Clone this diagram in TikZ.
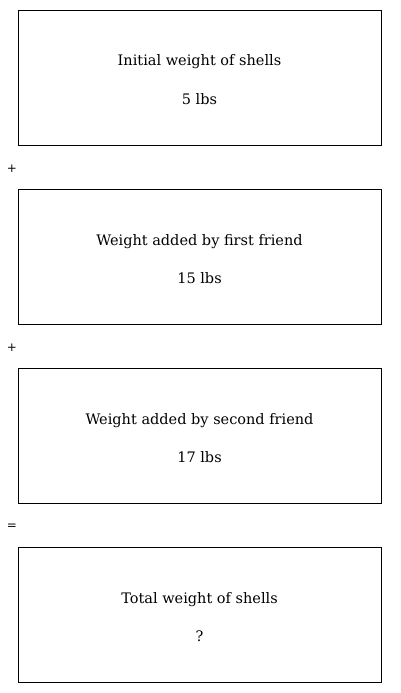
\documentclass[tikz,border=0pt]{standalone}
\usepackage{fontspec}
\setmainfont{DejaVu Serif}
\begin{document}
\begin{tikzpicture}[x=1pt,y=-1pt,font=\fontsize{14.5}{17}\selectfont]
\useasboundingbox (0,0) rectangle (400,693);
\node[draw, inner sep=0, minimum width=363pt, minimum height=135pt] (1) at (199.5,77.5) {};
\node[draw, inner sep=0, minimum width=363pt, minimum height=135pt] (2) at (199.5,256.5) {};
\node[draw, inner sep=0, minimum width=363pt, minimum height=135pt] (3) at (199.5,435.5) {};
\node[draw, inner sep=0, minimum width=363pt, minimum height=135pt] (4) at (199.5,614.5) {};
\node[anchor=base] (t1) at (199.5,66) {Initial weight of shells};
\node[anchor=base] (v1) at (199.5,104) {5 lbs};
\node[anchor=base] (t2) at (199.5,245) {Weight added by first friend};
\node[anchor=base] (v2) at (199.5,283) {15 lbs};
\node[anchor=base] (t3) at (199.5,424) {Weight added by second friend};
\node[anchor=base] (v3) at (199.5,462) {17 lbs};
\node[anchor=base] (t4) at (199.5,603) {Total weight of shells};
\node[anchor=base] (v4) at (199.5,641) {?};
\node[font=\fontsize{12}{14}\selectfont] (op1) at (12,169) {+};
\node[font=\fontsize{12}{14}\selectfont] (op2) at (12,348) {+};
\node[font=\fontsize{12}{14}\selectfont] (op3) at (12,527) {=};
\end{tikzpicture}
\end{document}
